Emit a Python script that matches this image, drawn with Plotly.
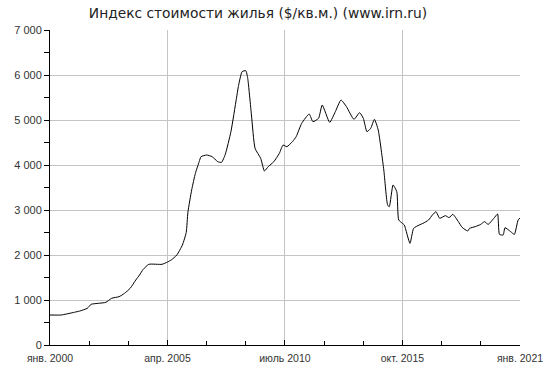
import plotly.graph_objects as go

dates = ["2000-01", "2000-07", "2001-02", "2001-05", "2001-09", "2001-11", "2002-03", "2002-07",
         "2002-10", "2003-02", "2003-05", "2003-08", "2003-11", "2004-01", "2004-03", "2004-06",
         "2005-01", "2005-04", "2005-06", "2005-09", "2005-12", "2006-02", "2006-03", "2006-05",
         "2006-07", "2006-09", "2006-10", "2007-01", "2007-04", "2007-07", "2007-09", "2007-11",
         "2008-02", "2008-05", "2008-06", "2008-08", "2008-10", "2008-11", "2009-01", "2009-03",
         "2009-06", "2009-08", "2009-10", "2010-01", "2010-04", "2010-06", "2010-08", "2010-11",
         "2011-01", "2011-04", "2011-08", "2011-10", "2012-01", "2012-03", "2012-07", "2012-10",
         "2013-01", "2013-04", "2013-08", "2013-11", "2014-01", "2014-03", "2014-05", "2014-07",
         "2014-09", "2014-12", "2015-02", "2015-03", "2015-05", "2015-07", "2015-08", "2015-10",
         "2015-11", "2016-02", "2016-04", "2016-07", "2016-09", "2016-12", "2017-02", "2017-04",
         "2017-06", "2017-09", "2017-11", "2018-01", "2018-04", "2018-06", "2018-09", "2018-10",
         "2019-01", "2019-04", "2019-06", "2019-08", "2019-11", "2020-01", "2020-02", "2020-04",
         "2020-05", "2020-08", "2020-10", "2020-12", "2021-01"]
values = [667, 667, 727, 755, 815, 904, 926, 948,
          1037, 1074, 1148, 1259, 1444, 1555, 1681, 1793,
          1793, 1844, 1889, 2000, 2222, 2500, 2950, 3444,
          3815, 4074, 4185, 4222, 4185, 4074, 4059, 4237,
          4741, 5481, 5741, 6074, 6096, 5926, 5111, 4370,
          4148, 3867, 3963, 4074, 4259, 4444, 4407, 4518,
          4630, 4926, 5133, 4963, 5037, 5333, 4948, 5185,
          5444, 5296, 5015, 5163, 5037, 4741, 4815, 5015,
          4778, 3889, 3111, 3074, 3556, 3407, 2778, 2704,
          2667, 2259, 2593, 2667, 2704, 2778, 2889, 2963,
          2815, 2874, 2830, 2904, 2741, 2615, 2533, 2593,
          2630, 2681, 2741, 2681, 2815, 2911, 2459, 2444,
          2607, 2519, 2459, 2778, 2820]

tick_vals = ["2000-01-01", "2005-04-01", "2010-07-01", "2015-10-01", "2021-01-01"]
tick_text = ["янв. 2000", "апр. 2005", "июль 2010", "окт. 2015", "янв. 2021"]
title_text = "Индекс стоимости жилья ($/кв.м.) (www.irn.ru)"

fig = go.Figure()
fig.add_trace(go.Scatter(
    x=[d + "-01" for d in dates], y=values, mode="lines",
    line=dict(color="black", width=1, shape="spline", smoothing=0.5),
    hoverinfo="skip", showlegend=False))

fig.update_layout(
    width=550, height=375,
    margin=dict(l=50, r=30, t=30, b=30),
    paper_bgcolor="white", plot_bgcolor="white",
    separators=", ",
    title=dict(text=title_text, x=258 / 550, xanchor="center", xref="container",
               y=1 - 13 / 375, yanchor="middle", yref="container",
               font=dict(family="DejaVu Sans", size=13.8, color="#222")),
    xaxis=dict(
        type="date", range=["2000-01-01", "2021-01-01"],
        tickmode="array", tickvals=tick_vals, ticktext=tick_text,
        showgrid=True, gridcolor="#c4c4c4", gridwidth=1,
        showline=True, linecolor="black", linewidth=1,
        ticks="inside", ticklen=5, tickcolor="black",
        minor=dict(tickmode="linear", tick0="2000-01-01", dtick="M21",
                   ticks="inside", ticklen=4, tickcolor="black", showgrid=False),
        tickfont=dict(family="Liberation Sans", size=10.5, color="#333"),
        ticklabelstandoff=3,
        zeroline=False, fixedrange=True, automargin=False,
    ),
    yaxis=dict(
        range=[0, 7000], tickmode="linear", tick0=0, dtick=1000,
        tickformat=",d",
        showgrid=True, gridcolor="#c4c4c4", gridwidth=1,
        showline=True, linecolor="black", linewidth=1,
        ticks="outside", ticklen=5, tickcolor="black",
        minor=dict(tickmode="linear", tick0=0, dtick=500,
                   ticks="outside", ticklen=5, tickcolor="black", showgrid=False),
        tickfont=dict(family="Liberation Sans", size=11, color="#333"),
        zeroline=False, fixedrange=True, automargin=False,
    ),
)

fig.write_html("out.html", config={"displayModeBar": False},
               post_script="document.body.style.margin='0';")
